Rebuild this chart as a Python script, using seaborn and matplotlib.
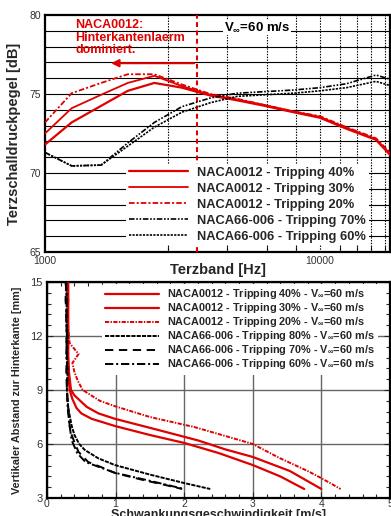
import numpy as np
import pandas as pd
import matplotlib
matplotlib.use("Agg")
import matplotlib.pyplot as plt
import seaborn as sns
from matplotlib.ticker import FixedLocator, NullFormatter, MultipleLocator

# ---- top panel data (1/3 octave spectra) ----
freq = [1000, 1250, 1600, 2000, 2500, 3150, 4000, 5000, 6300, 8000, 10000, 12500, 16000, 20000]
naca_40 = [71.8, 73.2, 74.25, 75.2, 75.7, 75.4, 74.9, 74.6, 74.25, 73.85, 73.5, 72.8, 72.1, 70.3]
naca_30 = [72.5, 74.1, 74.95, 75.7, 76.15, 75.5, 74.95, 74.65, 74.3, 73.9, 73.55, 72.85, 72.15, 70.4]
naca_20 = [73.2, 75.05, 75.7, 76.25, 76.25, 75.6, 75.0, 74.7, 74.3, 73.9, 73.6, 72.9, 72.2, 70.5]
n66_70 = [71.3, 70.45, 70.5, 71.9, 73.2, 74.2, 74.75, 75.05, 75.15, 75.25, 75.4, 75.65, 76.2, 75.7]
n66_60 = [71.3, 70.45, 70.5, 71.7, 72.9, 73.85, 74.45, 74.85, 74.95, 75.05, 75.2, 75.4, 75.8, 75.3]
top_labels = ["NACA0012 - Tripping 40%", "NACA0012 - Tripping 30%", "NACA0012 - Tripping 20%",
              "NACA66-006 - Tripping 70%", "NACA66-006 - Tripping 60%"]
f_limit = 3570  # trailing edge noise dominated below this

# ---- bottom panel data (velocity fluctuation profiles) ----
y_r40 = [15, 13, 11, 10, 9, 8.5, 8.0, 7.7, 7.4, 7.0, 6.5, 6.06, 5.5, 4.83, 4.2, 3.5]
u_r40 = [0.30, 0.30, 0.30, 0.31, 0.33, 0.37, 0.43, 0.50, 0.65, 0.99, 1.5, 2.0, 2.5, 3.0, 3.4, 3.75]
y_r30 = [15, 13, 11, 10, 9, 8.7, 8.06, 7.7, 7.4, 6.8, 6.2, 5.7, 5.28, 4.5, 3.5]
u_r30 = [0.31, 0.31, 0.31, 0.32, 0.35, 0.40, 0.58, 0.75, 0.99, 1.6, 2.2, 2.6, 3.0, 3.54, 4.0]
y_r20 = [15, 14, 13, 12, 11.6, 11.0, 10.5, 10.0, 9.5, 9.0, 8.4, 8.1, 7.5, 6.94, 6.5, 6.0, 5.22, 4.5, 4.1, 3.5]
u_r20 = [0.29, 0.31, 0.30, 0.32, 0.33, 0.46, 0.37, 0.40, 0.45, 0.52, 0.77, 0.99, 1.5, 2.15, 2.55, 3.0, 3.39, 3.8, 4.0, 4.28]
y_b80 = [15, 14, 13, 12, 11, 10, 9, 8, 7, 6.5, 6, 5.67, 5.2, 4.83, 4.3, 3.83, 3.5]
u_b80 = [0.27, 0.29, 0.28, 0.30, 0.29, 0.30, 0.29, 0.31, 0.36, 0.40, 0.47, 0.55, 0.75, 0.99, 1.5, 2.0, 2.38]
y_b70 = [15, 14, 13, 12, 11, 10, 9, 8, 7, 6.5, 6.0, 5.56, 5.0, 4.7, 4.39, 4.0, 3.7, 3.5]
u_b70 = [0.28, 0.27, 0.29, 0.28, 0.29, 0.28, 0.29, 0.31, 0.33, 0.36, 0.41, 0.46, 0.60, 0.80, 0.99, 1.4, 1.75, 1.97]
y_b60 = [15, 14, 13, 12, 11, 10, 9, 8, 7, 6.2, 5.5, 5.0, 4.4, 4.0, 3.5]
u_b60 = [0.28, 0.29, 0.28, 0.29, 0.28, 0.30, 0.29, 0.30, 0.33, 0.36, 0.44, 0.56, 0.99, 1.45, 2.0]
bot_labels = ["NACA0012 - Tripping 40% - V$_\\infty$=60 m/s", "NACA0012 - Tripping 30% - V$_\\infty$=60 m/s",
              "NACA0012 - Tripping 20% - V$_\\infty$=60 m/s", "NACA66-006 - Tripping 80% - V$_\\infty$=60 m/s",
              "NACA66-006 - Tripping 70% - V$_\\infty$=60 m/s", "NACA66-006 - Tripping 60% - V$_\\infty$=60 m/s"]

sns.set_style("white")
plt.rcParams['font.family'] = ['Liberation Sans', 'DejaVu Sans']
plt.rcParams['lines.scale_dashes'] = False
plt.rcParams['mathtext.fontset'] = 'custom'
plt.rcParams['mathtext.rm'] = 'Liberation Sans:bold'
plt.rcParams['mathtext.it'] = 'Liberation Sans:bold'

RED = '#e00000'
fig = plt.figure(figsize=(3.91, 5.16), dpi=100)

# ================= top panel =================
ax1 = fig.add_axes([45/391, 1-252/516, 345/391, 237/516])
ax1.set_xscale('log')
top_df = pd.DataFrame({'f': freq, 'r40': naca_40, 'r30': naca_30, 'r20': naca_20,
                       'b70': n66_70, 'b60': n66_60})
top_styles = [('r40', RED, '-', 1.6), ('r30', RED, '-', 1.3), ('r20', RED, (0, (4, 1.5, 1.5, 1.5)), 1.3),
              ('b70', 'black', (0, (4, 1.2, 1.2, 1.2, 1.2, 1.2)), 1.2), ('b60', 'black', (0, (1.6, 0.9)), 1.2)]
for (col, c, ls, lw), lab in zip(top_styles, top_labels):
    sns.lineplot(data=top_df, x='f', y=col, ax=ax1, color=c, linestyle=ls, lw=lw,
                 label=lab, estimator=None, sort=False, zorder=4)

ax1.set_xlim(1000, 18000)
ax1.set_ylim(65, 80)
for yv in range(66, 80):
    ax1.axhline(yv, color='black', lw=0.8, zorder=1)
minor_f = [1000 + 1800*k for k in range(1, 10)]
for fv in minor_f:
    ax1.axvline(fv, color='black', lw=0.8, ls=(0, (1, 1)), zorder=1)
ax1.axvline(f_limit, color=RED, lw=1.5, ls=(0, (3.5, 2.5)), zorder=3)
ax1.annotate('', xy=(1700, 76.95), xytext=(f_limit, 76.95),
             arrowprops=dict(arrowstyle='-|>', color=RED, lw=1.5, mutation_scale=11), zorder=5)
ax1.text(1290, 79.75, "NACA0012:\nHinterkantenlaerm\ndominiert.", color=RED, fontsize=9,
         fontweight='bold', va='top', ha='left', linespacing=1.08, zorder=5)
ax1.text(4480, 79.2, "V$_\\infty$=60 m/s", color='black', fontsize=9.5, fontweight='bold',
         va='center', ha='left', zorder=5,
         bbox=dict(facecolor='white', edgecolor='none', pad=0.5))

ax1.xaxis.set_major_locator(FixedLocator([1000, 10000]))
ax1.xaxis.set_minor_locator(FixedLocator(minor_f))
ax1.xaxis.set_minor_formatter(NullFormatter())
ax1.set_xticklabels(['1000', '10000'])
ax1.set_yticks([65, 70, 75, 80])
ax1.tick_params(axis='both', which='both', direction='in', labelsize=7.5, labelcolor='#333333', pad=2)
ax1.tick_params(axis='x', which='major', length=0, pad=3)
ax1.tick_params(axis='x', which='minor', length=4, width=0.8, bottom=True)
ax1.tick_params(axis='y', length=0, pad=3)
for s in ax1.spines.values():
    s.set_linewidth(1.6)
    s.set_color('black')
ax1.set_xlabel("Terzband [Hz]", fontsize=10.5, fontweight='bold', labelpad=-2)
ax1.set_ylabel("Terzschalldruckpegel [dB]", fontsize=10.5, fontweight='bold', labelpad=6)
leg1 = ax1.legend(loc='upper left', bbox_to_anchor=(0.235, 0.37), frameon=True,
                  handlelength=4.6, handletextpad=0.7, labelspacing=0.3, borderpad=0.2,
                  borderaxespad=0, prop={'weight': 'bold', 'size': 9.3})
leg1.get_frame().set_facecolor('white')
leg1.get_frame().set_edgecolor('none')
leg1.get_frame().set_alpha(1)
leg1.set_zorder(6)

# ================= bottom panel =================
ax2 = fig.add_axes([47/391, 1-498/516, 343/391, 216/516])
bot_sets = [(u_r40, y_r40, RED, '-', 1.6), (u_r30, y_r30, RED, '-', 1.6),
            (u_r20, y_r20, RED, (0, (3, 1, 1, 1)), 1.4),
            (u_b80, y_b80, 'black', (0, (3, 0.8)), 1.4),
            (u_b70, y_b70, 'black', (0, (6, 4)), 1.4),
            (u_b60, y_b60, 'black', (0, (6, 2, 1.5, 2)), 1.4)]
for (u, yy, c, ls, lw), lab in zip(bot_sets, bot_labels):
    prof = pd.DataFrame({'u': u, 'y': yy})
    sns.lineplot(data=prof, x='u', y='y', ax=ax2, color=c, linestyle=ls, lw=lw, label=lab,
                 estimator=None, sort=False, zorder=4)
ax2.set_xlim(0, 5)
ax2.set_ylim(3, 15)
ax2.xaxis.set_major_locator(MultipleLocator(1))
ax2.xaxis.set_minor_locator(MultipleLocator(0.2))
ax2.yaxis.set_major_locator(MultipleLocator(3))
ax2.yaxis.set_minor_locator(MultipleLocator(0.6))
ax2.grid(True, which='major', color='#666666', lw=1.0, zorder=1)
ax2.tick_params(axis='both', which='both', direction='in', labelsize=8, labelcolor='#333333',
                bottom=True, left=True, top=True, right=True)
ax2.tick_params(axis='both', which='major', length=4, width=0.8, pad=3)
ax2.tick_params(axis='x', which='major', pad=1, labelsize=7.5)
ax2.tick_params(axis='both', which='minor', length=3, width=0.8)
for s in ax2.spines.values():
    s.set_linewidth(1.6)
    s.set_color('black')
ax2.set_xlabel("Schwankungsgeschwindigkeit [m/s]", fontsize=9, fontweight='bold', labelpad=0)
ax2.set_ylabel("Vertikaler Abstand zur Hinterkante [mm]", fontsize=7.8, fontweight='bold', labelpad=6)
leg2 = ax2.legend(loc='upper left', bbox_to_anchor=(0.16, 0.99), frameon=True,
                  handlelength=5.0, handletextpad=0.7, labelspacing=0.0, borderpad=0.3,
                  borderaxespad=0, prop={'weight': 'bold', 'size': 7.8})
leg2.get_frame().set_facecolor('white')
leg2.get_frame().set_edgecolor('none')
leg2.get_frame().set_alpha(1)
leg2.set_zorder(6)

fig.savefig("out.png", dpi=100)
